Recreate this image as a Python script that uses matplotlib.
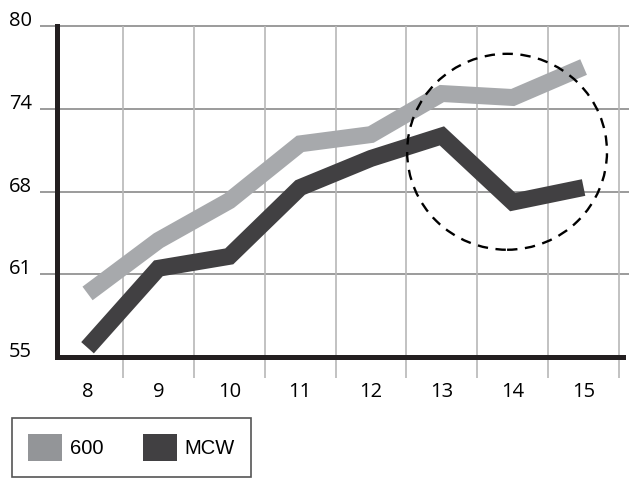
import matplotlib.pyplot as plt
from matplotlib.patches import Ellipse, Patch

# data
categories = [8, 9, 10, 11, 12, 13, 14, 15]
series_600 = [59.8, 63.8, 66.8, 71.1, 71.8, 74.9, 74.6, 76.9]
series_mcw = [55.7, 61.7, 62.6, 67.8, 70.0, 71.7, 66.7, 67.8]
y_ticks = [55, 61.25, 67.5, 73.75, 80]
y_tick_labels = ['55', '61', '68', '74', '80']

light = '#a7a9ac'
dark = '#414042'

fig = plt.figure(figsize=(6.29, 4.79), dpi=100)
ax = fig.add_axes([57 / 629, 1 - 357 / 479, 566 / 629, 331 / 479])

# thick lines
ax.plot(categories, series_600, color=light, lw=12.2,
        solid_capstyle='butt', solid_joinstyle='miter', zorder=3)
ax.plot(categories, series_mcw, color=dark, lw=12.2,
        solid_capstyle='butt', solid_joinstyle='miter', zorder=3)

ax.set_xlim(7.569, 15.556)
ax.set_ylim(55, 80)

# grid lines that run past the axes
ax.hlines(y_ticks[1:], -0.03, 1.011, transform=ax.get_yaxis_transform(),
          color='#8a8a8a', lw=1.2, clip_on=False, zorder=1)
ax.vlines([c + 0.5 for c in categories], -0.064, 1, transform=ax.get_xaxis_transform(),
          color='#b8b8b8', lw=1.2, clip_on=False, zorder=1)

# dashed circle around the last three points
ring = Ellipse((13.92, 70.5), 2.82, 14.8, fill=False, ec='black', lw=1.7,
               ls=(0, (4.4, 3.2)), zorder=4)
ax.add_patch(ring)

# spines
for side in ['top', 'right']:
    ax.spines[side].set_visible(False)
for side in ['left', 'bottom']:
    ax.spines[side].set_color('#231f20')
    ax.spines[side].set_linewidth(3.6)

# ticks
ax.set_xticks(categories)
ax.set_xticklabels([str(c) for c in categories], family='Open Sans', fontsize=14.5)
ax.set_yticks(y_ticks)
ax.set_yticklabels(y_tick_labels, family='Open Sans', fontsize=14.5)
ax.tick_params(axis='x', length=0, pad=18)
ax.tick_params(axis='y', length=0, pad=34.6)
for lab in ax.get_yticklabels():
    lab.set_horizontalalignment('left')
    lab.set_verticalalignment('baseline')

# legend box at the bottom left
handles = [Patch(fc='#939598', ec='none', label='600'),
           Patch(fc=dark, ec='none', label='MCW')]
leg = fig.legend(handles=handles, loc='upper left', bbox_to_anchor=(12 / 629, 1 - 418 / 479),
                 ncol=2, frameon=True, fancybox=False, edgecolor='#555555', framealpha=1,
                 handlelength=1.69, handleheight=1.69, handletextpad=0.4,
                 columnspacing=1.94, borderpad=0.8, borderaxespad=0,
                 prop={'family': 'Liberation Sans', 'size': 14.5})
leg.get_frame().set_linewidth(1.2)

fig.savefig('out.png', dpi=100)
